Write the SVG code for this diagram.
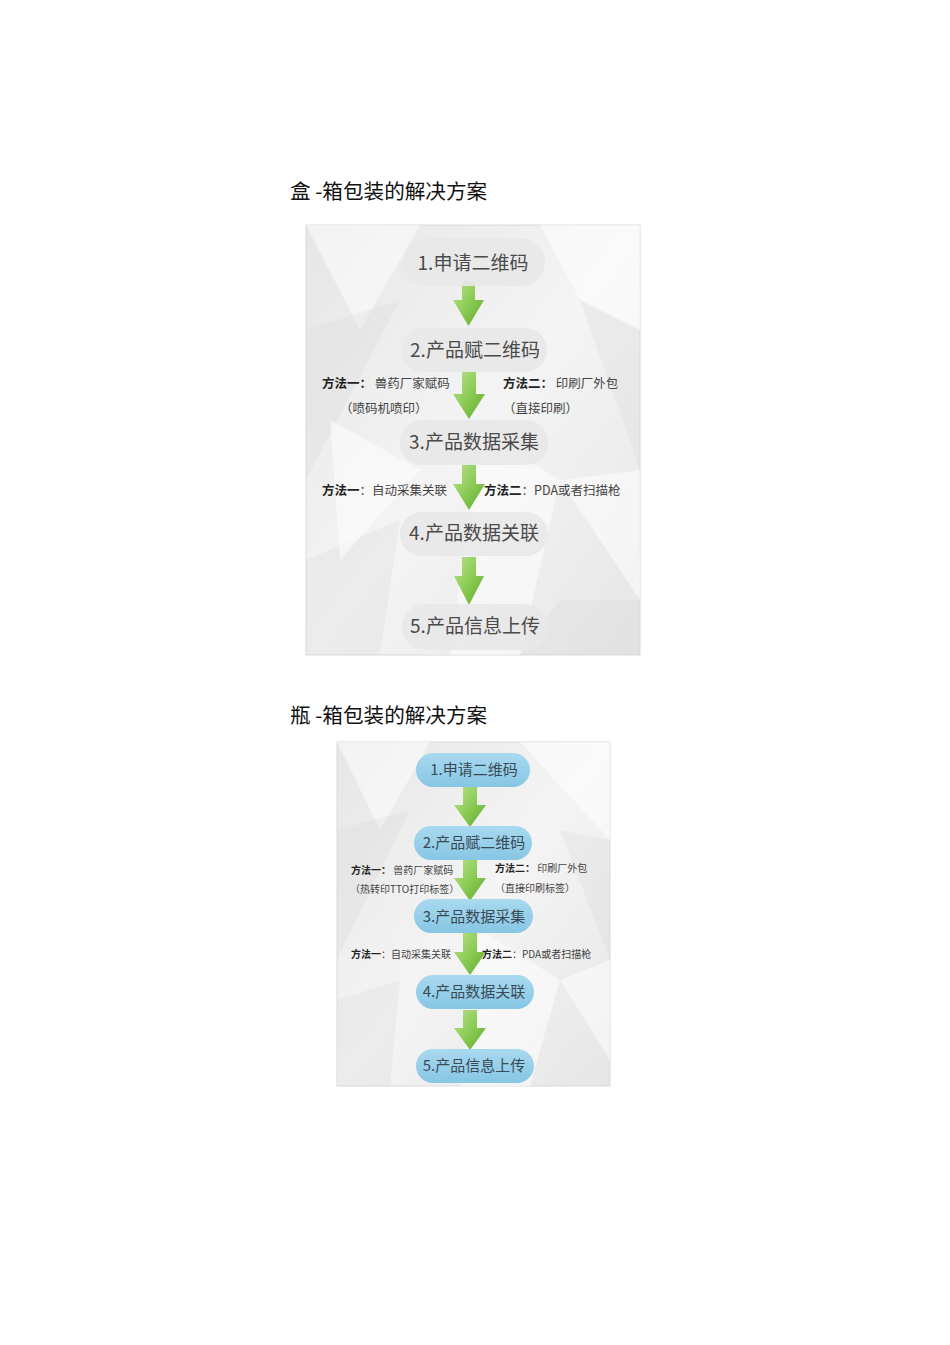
<svg xmlns="http://www.w3.org/2000/svg" width="950" height="1345" viewBox="0 0 950 1345">
<defs>
<style>
.title{font-family:"Noto Sans CJK SC","Liberation Sans",sans-serif;font-size:20.6px;fill:#111}
.nt{font-family:"Noto Sans CJK SC","Liberation Sans",sans-serif;font-size:19px;fill:#4a4a4a;text-anchor:middle}
.nb{font-family:"Noto Sans CJK SC","Liberation Sans",sans-serif;font-size:15px;fill:#3a4a55;text-anchor:middle}
.lt{font-family:"Noto Sans CJK SC","Liberation Sans",sans-serif;font-size:12.5px;fill:#444}
.lb{font-family:"Noto Sans CJK SC","Liberation Sans",sans-serif;font-size:10px;fill:#444}
.bd{font-weight:bold;fill:#222}
.pillT{fill:#e8e8e8;fill-opacity:0.9}
.pillB{fill:url(#blue)}
.arr{fill:url(#green)}
.facetW{fill:#ffffff;fill-opacity:0.5}
.facetG{fill:#d6d6d6;fill-opacity:0.28}
</style>
<linearGradient id="green" x1="0" y1="0" x2="1" y2="1">
<stop offset="0" stop-color="#b9e08e"/>
<stop offset="0.5" stop-color="#8ccc55"/>
<stop offset="1" stop-color="#5fa82c"/>
</linearGradient>
<linearGradient id="blue" x1="0" y1="0" x2="0" y2="1">
<stop offset="0" stop-color="#a9d9ef"/>
<stop offset="1" stop-color="#86c6e4"/>
</linearGradient>
<linearGradient id="bgT" x1="0" y1="0" x2="1" y2="1">
<stop offset="0" stop-color="#e6e6e6"/>
<stop offset="0.5" stop-color="#f4f4f4"/>
<stop offset="1" stop-color="#e6e6e6"/>
</linearGradient>
<clipPath id="cpT"><rect x="306" y="225" width="334" height="430"/></clipPath>
<clipPath id="cpB"><rect x="337" y="742" width="273" height="344"/></clipPath>
</defs>
<rect width="950" height="1345" fill="#ffffff"/>

<text class="title" x="290" y="199">盒 -箱包装的解决方案</text>
<text class="title" x="290" y="723">瓶 -箱包装的解决方案</text>

<g id="panel-top-bg">
<rect x="306" y="225" width="334" height="430" fill="url(#bgT)" stroke="#dadada" stroke-width="1"/>
<g clip-path="url(#cpT)">
<polygon class="facetW" points="306,225 420,225 360,330"/>
<polygon class="facetG" points="306,330 400,300 306,480"/>
<polygon class="facetW" points="540,225 640,225 640,330 580,300"/>
<polygon class="facetG" points="580,300 640,330 640,470"/>
<polygon class="facetW" points="480,430 560,480 520,655 450,655"/>
<polygon class="facetG" points="306,560 400,520 380,655 306,655"/>
<polygon class="facetW" points="560,480 640,470 640,600"/>
<polygon class="facetG" points="560,600 640,600 640,655 520,655"/>
<polygon class="facetW" points="330,420 420,470 340,560"/>
</g>
</g>

<g id="panel-bottom-bg">
<rect x="337" y="742" width="273" height="344" fill="url(#bgT)" stroke="#dadada" stroke-width="1"/>
<g clip-path="url(#cpB)">
<polygon class="facetW" points="337,742 430,742 380,830"/>
<polygon class="facetG" points="337,830 410,810 337,960"/>
<polygon class="facetW" points="520,742 610,742 610,840"/>
<polygon class="facetG" points="560,830 610,840 610,960"/>
<polygon class="facetW" points="480,930 560,980 530,1086 460,1086"/>
<polygon class="facetG" points="337,1000 400,980 390,1086 337,1086"/>
<polygon class="facetW" points="560,980 610,960 610,1060"/>
</g>
</g>

<g id="connectors">
<path class="arr" d="M462,281 H475 V300 H484 L468.5,326 L453,300 H462 Z"/>
<path class="arr" d="M462,372 H476 V394 H485 L469,419 L453,394 H462 Z"/>
<path class="arr" d="M462,465 H476 V484 H485 L469,510 L453,484 H462 Z"/>
<path class="arr" d="M462,557 H476 V576 H484 L469,605 L454,576 H462 Z"/>
<path class="arr" d="M463,787 H477 V805 H486 L470,827 L454,805 H463 Z"/>
<path class="arr" d="M463,859 H477 V878 H486 L470,901 L454,878 H463 Z"/>
<path class="arr" d="M463,932 H477 V952 H486 L470,975 L454,952 H463 Z"/>
<path class="arr" d="M463,1010 H477 V1028 H486 L470,1050 L454,1028 H463 Z"/>
</g>

<g id="top-node1"><rect class="pillT" x="403" y="238" width="142" height="48" rx="24"/><text class="nt" x="473" y="270">1.申请二维码</text></g>
<g id="top-node2"><rect class="pillT" x="401" y="328" width="146" height="44" rx="22"/><text class="nt" x="475" y="357">2.产品赋二维码</text></g>
<g id="top-node3"><rect class="pillT" x="400" y="420" width="148" height="45" rx="22"/><text class="nt" x="474" y="449">3.产品数据采集</text></g>
<g id="top-node4"><rect class="pillT" x="400" y="512" width="148" height="44" rx="22"/><text class="nt" x="474" y="540">4.产品数据关联</text></g>
<g id="top-node5"><rect class="pillT" x="402" y="604" width="146" height="46" rx="23"/><text class="nt" x="475" y="633">5.产品信息上传</text></g>

<g id="top-labels">
<text class="lt" x="322" y="388"><tspan class="bd">方法一：</tspan> 兽药厂家赋码</text>
<text class="lt" x="340" y="413">（喷码机喷印）</text>
<text class="lt" x="503" y="388"><tspan class="bd">方法二：</tspan> 印刷厂外包</text>
<text class="lt" x="503" y="413">（直接印刷）</text>
<text class="lt" x="322" y="495"><tspan class="bd">方法一</tspan>：自动采集关联</text>
<text class="lt" x="484" y="495"><tspan class="bd">方法二</tspan>：PDA或者扫描枪</text>
</g>

<g id="bot-node1"><rect class="pillB" x="416" y="753" width="114" height="34" rx="17"/><text class="nb" x="474" y="775">1.申请二维码</text></g>
<g id="bot-node2"><rect class="pillB" x="414" y="826" width="118" height="34" rx="17"/><text class="nb" x="474" y="848">2.产品赋二维码</text></g>
<g id="bot-node3"><rect class="pillB" x="414" y="899" width="119" height="34" rx="17"/><text class="nb" x="474" y="922">3.产品数据采集</text></g>
<g id="bot-node4"><rect class="pillB" x="416" y="975" width="118" height="34" rx="17"/><text class="nb" x="474" y="997">4.产品数据关联</text></g>
<g id="bot-node5"><rect class="pillB" x="416" y="1049" width="118" height="34" rx="17"/><text class="nb" x="474" y="1071">5.产品信息上传</text></g>

<g id="bot-labels">
<text class="lb" x="351" y="874"><tspan class="bd">方法一：</tspan> 兽药厂家赋码</text>
<text class="lb" x="350" y="893">（热转印TTO打印标签）</text>
<text class="lb" x="495" y="872"><tspan class="bd">方法二：</tspan> 印刷厂外包</text>
<text class="lb" x="495" y="892">（直接印刷标签）</text>
<text class="lb" x="351" y="958"><tspan class="bd">方法一</tspan>：自动采集关联</text>
<text class="lb" x="482" y="958"><tspan class="bd">方法二</tspan>：PDA或者扫描枪</text>
</g>
</svg>
